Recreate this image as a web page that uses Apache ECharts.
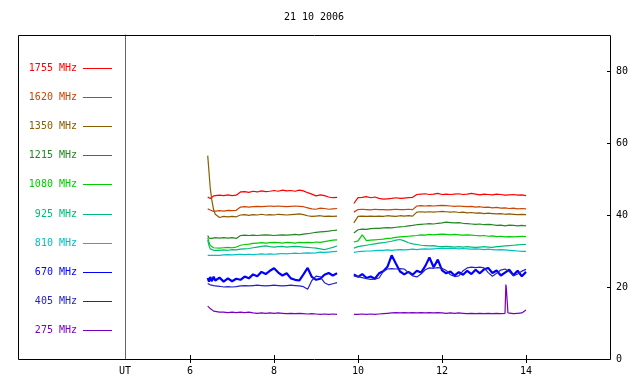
<!DOCTYPE html>
<html>
<head>
<meta charset="utf-8">
<script src="https://cdn.jsdelivr.net/npm/echarts@6/dist/echarts.min.js"></script>
<style>html,body{margin:0;padding:0;background:#fff}#c{width:640px;height:384px}</style>
</head>
<body>
<div id="c"></div>
<script>
// ---- data ----
const chartTitle = '21 10 2006';
const timeUT = [6.42,6.45,6.48,6.52,6.56,6.6,6.7,6.8,6.9,7.0,7.1,7.2,7.3,7.4,7.5,7.6,7.7,7.8,7.9,8.0,8.1,8.2,8.3,8.4,8.5,8.6,8.7,8.8,8.9,9.0,9.1,9.2,9.3,9.4,9.5,
  9.7,
  9.9,10.0,10.1,10.2,10.3,10.4,10.5,10.6,10.7,10.8,10.9,11.0,11.1,11.2,11.3,11.4,11.5,11.6,11.7,11.8,11.9,12.0,12.1,12.2,12.3,12.4,12.5,12.6,12.7,12.8,12.9,13.0,13.1,13.2,13.3,13.4,13.5,13.6,13.7,13.8,13.9,14.0];
const frequencies = ['1755 MHz','1620 MHz','1350 MHz','1215 MHz','1080 MHz','925 MHz','810 MHz','670 MHz','405 MHz','275 MHz'];
const xTickValues = [6, 8, 10, 12, 14];
const xAxisName = 'UT';
const yTickValues = [0, 20, 40, 60, 80];

const f1755 = [45.0,44.9,44.6,45.0,45.3, 45.4,45.5,45.4,45.6,45.4,45.5,46.4,46.5,46.3,46.6,46.4,46.7,46.5,46.6,46.8,46.6,46.9,46.7,46.8,46.6,46.9,46.7,46.2,45.8,45.3,45.6,45.4,45.0,44.8,44.9,
  null,
  43.2,44.8,44.9,45.1,44.8,45.0,44.6,44.4,44.5,44.6,44.8,44.6,44.7,44.8,44.9,45.7,45.8,45.9,45.7,45.8,46.0,45.7,45.8,45.7,45.8,45.9,45.7,45.8,46.0,45.8,45.6,45.8,45.7,45.6,45.8,45.7,45.5,45.6,45.7,45.5,45.6,45.4];
const f1620 = [41.7,41.6,41.4,41.2,41.0, 41.1,41.2,41.1,41.3,41.2,41.3,42.2,42.3,42.2,42.3,42.4,42.3,42.4,42.5,42.4,42.5,42.4,42.3,42.4,42.5,42.4,42.3,42.0,41.7,41.6,41.9,41.8,41.6,41.7,41.8,
  null,
  40.8,41.5,41.6,41.5,41.4,41.6,41.5,41.5,41.4,41.5,41.6,41.5,41.5,41.6,41.5,42.5,42.6,42.5,42.6,42.5,42.6,42.7,42.6,42.5,42.4,42.5,42.4,42.3,42.4,42.2,42.3,42.1,42.2,42.0,42.1,41.9,42.0,41.8,41.9,41.7,41.8,41.7];
const f1350 = [56.5,52.0,47.5,44.0,41.5, 40.2,39.3,39.6,39.5,39.6,39.5,40.0,40.1,39.9,40.1,40.0,40.2,40.0,40.1,40.0,40.2,40.1,40.0,40.1,40.2,40.3,40.1,39.8,39.6,39.7,39.8,39.6,39.7,39.6,39.7,
  null,
  37.8,39.6,39.7,39.6,39.7,39.6,39.7,39.6,39.8,39.7,39.6,39.8,39.7,39.8,39.7,40.8,40.9,40.8,40.9,40.8,40.9,41.0,40.9,40.8,40.9,40.7,40.8,40.6,40.7,40.5,40.6,40.4,40.5,40.4,40.3,40.4,40.2,40.3,40.2,40.1,40.2,40.1];
const f1215 = [34.3,33.6,33.4,33.5,33.6, 33.7,33.6,33.7,33.6,33.7,33.5,34.3,34.4,34.3,34.4,34.3,34.4,34.5,34.4,34.3,34.4,34.5,34.4,34.5,34.6,34.5,34.7,34.8,35.0,35.2,35.3,35.4,35.5,35.7,35.8,
  null,
  35.0,35.9,36.1,36.0,36.2,36.3,36.3,36.4,36.5,36.4,36.6,36.7,36.8,37.0,37.1,37.3,37.4,37.5,37.6,37.5,37.7,37.8,38.0,37.9,37.8,37.9,37.7,37.6,37.5,37.4,37.5,37.3,37.4,37.3,37.1,37.2,37.0,37.2,37.1,37.0,37.1,37.0];
const f1080 = [33.7,32.5,31.5,31.1,30.9, 30.9,30.8,30.9,31.0,30.9,31.1,31.6,31.8,31.9,32.1,32.2,32.3,32.2,32.3,32.4,32.3,32.2,32.4,32.3,32.2,32.4,32.3,32.4,32.3,32.5,32.4,32.6,32.8,33.0,33.1,
  null,
  32.5,32.8,34.5,32.9,33.0,33.1,33.2,33.3,33.5,33.6,33.8,33.9,34.0,34.1,34.2,34.3,34.5,34.4,34.6,34.5,34.6,34.7,34.6,34.5,34.6,34.5,34.4,34.5,34.4,34.3,34.2,34.3,34.1,34.2,34.0,34.1,33.9,34.0,33.9,34.0,34.1,34.0];
const f925 = [33.0,31.5,30.6,30.3,30.2, 30.3,30.2,30.3,30.2,30.4,30.3,30.5,30.6,30.7,30.9,31.1,31.3,31.4,31.2,31.1,31.2,31.3,31.1,31.2,31.3,31.2,31.1,31.0,30.9,30.8,30.6,30.4,30.7,31.0,31.4,
  null,
  30.8,31.2,31.4,31.6,31.8,32.0,32.2,32.3,32.5,32.7,33.0,33.2,32.8,32.3,32.0,31.8,31.6,31.5,31.4,31.5,31.3,31.2,31.3,31.2,31.1,31.2,31.1,31.2,31.1,31.0,31.1,31.2,31.1,31.0,31.2,31.3,31.4,31.5,31.6,31.7,31.8,31.8];
const f810 = [28.8,28.7,28.8,28.7,28.8, 28.9,28.8,28.9,29.0,28.9,29.0,29.1,29.0,29.1,29.0,29.1,29.2,29.1,29.2,29.1,29.2,29.3,29.2,29.3,29.4,29.3,29.4,29.5,29.4,29.5,29.7,29.6,29.7,29.8,29.9,
  null,
  29.6,29.8,29.9,30.0,30.0,30.1,30.2,30.2,30.3,30.2,30.3,30.4,30.3,30.4,30.5,30.4,30.5,30.6,30.5,30.6,30.7,30.8,30.7,30.8,30.7,30.6,30.7,30.6,30.5,30.6,30.5,30.4,30.5,30.4,30.3,30.4,30.3,30.2,30.1,30.0,29.9,29.9];
const f670 = [22.5,21.5,22.8,21.6,22.9, 21.8,22.6,21.5,22.4,21.6,22.3,22.0,22.9,22.4,23.5,23.0,24.2,23.6,24.5,25.2,24.0,23.2,23.8,22.4,22.0,21.8,23.5,25.3,22.8,22.0,22.3,23.4,23.9,23.2,23.8,
  null,
  23.5,22.8,23.6,22.5,22.9,22.3,23.8,24.4,25.6,28.8,26.5,24.3,23.5,24.2,23.4,24.5,24.0,25.8,28.2,25.5,27.6,24.6,23.8,24.3,23.2,24.1,23.4,24.5,23.6,24.8,23.8,24.9,25.3,23.9,24.6,23.2,24.0,24.8,23.3,24.5,23.0,24.2];
const f405 = [21.0,20.8,20.6,20.5,20.4, 20.3,20.2,20.0,20.1,20.0,20.1,20.3,20.4,20.3,20.4,20.5,20.4,20.3,20.4,20.5,20.4,20.3,20.4,20.5,20.4,20.3,20.1,19.4,21.8,23.0,22.8,21.2,20.6,20.9,21.2,
  null,
  23.0,22.9,22.6,22.3,22.1,22.2,22.5,24.3,25.0,25.1,25.0,25.1,25.0,24.0,23.1,22.8,23.6,24.8,25.3,25.2,25.4,25.2,24.6,23.4,22.9,23.1,24.5,25.3,25.5,25.4,25.5,25.3,24.0,23.0,23.8,24.7,25.0,24.3,23.1,23.6,24.4,24.9];
const f275 = [14.7,14.3,14.0,13.6,13.3, 13.2,13.0,13.0,12.9,13.0,12.9,13.0,12.9,13.0,12.8,12.7,12.8,12.7,12.8,12.7,12.8,12.7,12.6,12.7,12.6,12.7,12.6,12.5,12.6,12.5,12.4,12.5,12.4,12.5,12.4,
  null,
  12.4,12.4,12.5,12.4,12.5,12.4,12.5,12.6,12.7,12.8,12.9,12.8,12.9,12.8,12.9,12.8,12.9,12.8,12.9,12.8,12.9,12.8,12.7,12.8,12.7,12.8,12.7,12.6,12.7,12.6,12.7,12.6,12.7,12.6,12.7,12.6,12.7,12.7,12.6,12.7,12.8,13.6];
// short burst on 275 MHz near 13.5 UT
const burst275Time = [13.52, 13.53, 13.55, 13.57];
const burst275Value = [20.7, 19.9, 19.6, 12.8];

const seriesValues = [f1755, f1620, f1350, f1215, f1080, f925, f810, f670, f405, f275];

// ---- styling ----
const colors = ['#ff0000','#cc4400','#8a5c00','#228822','#00cc00','#00bb77','#00c0c0','#0000ff','#2222cc','#7a00c0'];
const FONT = '"DejaVu Sans Mono", monospace';

function buildData(vals, extraT, extraV) {
  const pts = timeUT.map((t, i) => [t, vals[i] == null ? '-' : vals[i]]);
  if (extraT) {
    extraT.forEach((t, i) => pts.push([t, extraV[i]]));
    pts.sort((a, b) => a[0] - b[0]);
  }
  return pts;
}

const series = frequencies.map((name, k) => ({
  name: name,
  type: 'line',
  xAxisIndex: 0,
  yAxisIndex: 0,
  showSymbol: false,
  symbol: 'none',
  connectNulls: false,
  lineStyle: { color: colors[k], width: name === '670 MHz' ? 2.2 : 1.2 },
  itemStyle: { color: colors[k] },
  data: k === 9 ? buildData(seriesValues[k], burst275Time, burst275Value) : buildData(seriesValues[k])
}));

const graphic = [
  { type: 'rect', shape: { x: 18.5, y: 35.5, width: 592, height: 324 }, style: { fill: 'none', stroke: '#000', lineWidth: 1 }, z: 10 },
  { type: 'text', x: 314, y: 17, style: { text: chartTitle, font: '10px ' + FONT, fill: '#000', align: 'center', verticalAlign: 'middle', textAlign: 'center', textVerticalAlign: 'middle' } }
];
frequencies.forEach((name, k) => {
  const y = Math.round(68 + 29.1 * k) + 0.5;
  graphic.push({ type: 'text', x: 77, y: y, style: { text: name, font: '10px ' + FONT, fill: colors[k], align: 'right', verticalAlign: 'middle', textAlign: 'right', textVerticalAlign: 'middle' } });
  graphic.push({ type: 'line', shape: { x1: 83, y1: y, x2: 112, y2: y }, style: { stroke: colors[k], lineWidth: 1 } });
});

const chart = echarts.init(document.getElementById('c'), null, { renderer: 'canvas' });
chart.setOption({
  animation: false,
  backgroundColor: '#fff',
  grid: { left: 125, right: 30, top: 35, bottom: 25, containLabel: false },
  xAxis: [
    { type: 'value', position: 'bottom', min: 4.45, max: 16,
      axisLine: { show: false }, splitLine: { show: false },
      axisTick: { show: true, inside: true, length: 4, customValues: xTickValues, lineStyle: { color: '#000' } },
      axisLabel: { show: true, customValues: [4.45].concat(xTickValues), formatter: v => (v === 4.45 ? xAxisName : String(v)),
        fontFamily: FONT, fontSize: 10, color: '#000', margin: 7 } },
    { type: 'value', position: 'top', min: 4.45, max: 16,
      axisLine: { show: false }, splitLine: { show: false },
      axisTick: { show: true, inside: true, length: 4, customValues: xTickValues, lineStyle: { color: '#000' } },
      axisLabel: { show: false } }
  ],
  yAxis: [
    { type: 'value', position: 'right', min: 0, max: 90,
      axisLine: { show: false }, splitLine: { show: false },
      axisTick: { show: true, inside: true, length: 3, customValues: yTickValues, lineStyle: { color: '#000' } },
      axisLabel: { show: true, customValues: yTickValues, fontFamily: FONT, fontSize: 10, color: '#000', margin: 6 } },
    { type: 'value', position: 'left', min: 0, max: 90,
      axisLine: { show: true, lineStyle: { color: '#666', width: 1 } }, splitLine: { show: false },
      axisTick: { show: false }, axisLabel: { show: false } }
  ],
  series: series,
  graphic: graphic
});
</script>
</body>
</html>
